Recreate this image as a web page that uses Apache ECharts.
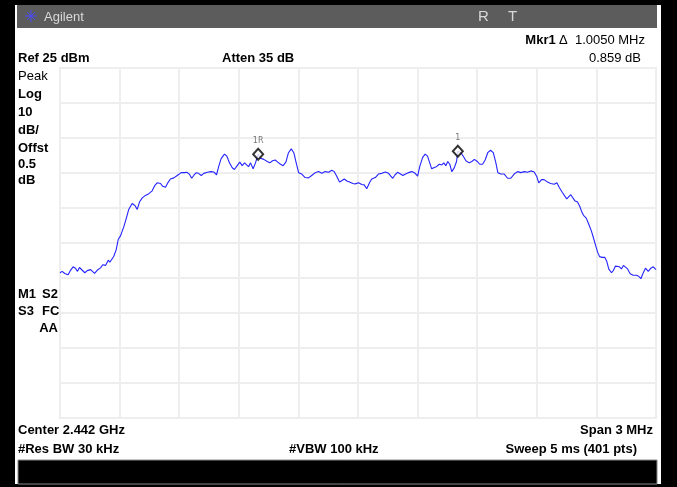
<!DOCTYPE html>
<html><head><meta charset="utf-8">
<script src="https://cdn.jsdelivr.net/npm/echarts@6/dist/echarts.min.js"></script>
<style>html,body{margin:0;padding:0;background:#fff}#c{width:677px;height:487px}</style>
</head><body><div id="c"></div>
<script>
// Spectrum trace: frequency (MHz) and level (dBm)
const freqMHz = [
2440.500,2440.511,2440.524,2440.541,2440.553,2440.566,2440.578,2440.588,2440.598,2440.608,
2440.625,2440.637,2440.654,2440.662,2440.674,2440.687,2440.704,2440.715,2440.729,2440.743,
2440.751,2440.759,2440.771,2440.783,2440.793,2440.805,2440.821,2440.833,2440.846,2440.863,
2440.877,2440.889,2440.900,2440.914,2440.930,2440.947,2440.964,2440.977,2440.989,2441.006,
2441.017,2441.031,2441.045,2441.056,2441.073,2441.090,
2441.110,2441.127,2441.140,2441.152,2441.163,2441.173,2441.186,2441.197,2441.211,2441.224,
2441.241,2441.261,2441.274,2441.288,2441.299,2441.311,2441.328,2441.340,2441.353,2441.367,
2441.378,2441.392,2441.405,2441.417,2441.429,2441.439,2441.449,2441.459,2441.472,2441.484,
2441.4975,2441.509,2441.526,2441.543,2441.556,2441.570,2441.583,2441.596,2441.610,2441.623,
2441.637,2441.650,2441.664,2441.677,2441.689,
2441.701,2441.717,2441.734,2441.751,2441.767,2441.785,2441.801,2441.818,2441.835,2441.852,
2441.868,2441.880,2441.893,2441.907,2441.918,2441.931,2441.944,2441.957,2441.974,2441.986,
2442.003,2442.019,2442.031,2442.044,2442.058,2442.069,2442.087,2442.103,2442.120,2442.137,
2442.154,2442.165,2442.175,2442.187,2442.199,2442.212,2442.226,2442.239,2442.254,2442.271,
2442.288,
2442.300,2442.311,2442.325,2442.338,2442.350,2442.361,2442.371,2442.384,2442.395,2442.409,
2442.422,2442.432,2442.442,2442.452,2442.462,2442.472,2442.484,2442.496,2442.5025,2442.518,
2442.530,2442.543,2442.560,2442.573,2442.586,2442.600,2442.613,2442.627,2442.640,2442.653,
2442.667,2442.681,2442.694,2442.704,2442.719,2442.736,2442.753,2442.769,2442.786,2442.803,
2442.820,2442.837,2442.853,2442.870,2442.887,
2442.899,2442.910,2442.924,2442.937,2442.954,2442.970,2442.988,2443.001,2443.014,2443.028,
2443.041,2443.051,2443.061,2443.071,2443.081,2443.091,2443.105,2443.116,2443.125,2443.135,
2443.149,2443.162,2443.175,2443.185,2443.196,2443.206,2443.216,2443.229,2443.242,2443.252,
2443.262,2443.276,2443.286,2443.296,2443.306,2443.316,2443.326,2443.336,2443.346,2443.357,
2443.370,2443.385,2443.402,2443.413,2443.424,2443.436,2443.447,2443.461,2443.474,2443.486,
2443.500
];
const levelDbm = [
-33.5,-33.1,-33.7,-34.1,-32.8,-31.8,-32.2,-33.1,-32.0,-32.4,
-33.5,-32.9,-32.6,-32.9,-33.7,-32.8,-32.1,-31.2,-31.4,-29.9,
-30.5,-30.9,-28.8,-26.9,-24.0,-22.9,-20.4,-18.1,-15.4,-13.7,
-14.3,-15.4,-13.3,-12.1,-11.4,-10.9,-10.1,-8.6,-7.8,-8.0,
-8.8,-9.1,-7.6,-6.7,-6.4,-5.7,
-4.9,-4.9,-4.8,-5.4,-6.5,-5.7,-4.9,-5.1,-5.7,-5.1,
-4.8,-4.6,-4.7,-5.5,-3.1,-0.9,0.4,-0.2,-2.1,-3.5,
-4.0,-2.9,-1.9,-2.9,-2.1,-1.7,-3.2,-2.1,-3.8,-2.1,
0.35,-0.8,-1.1,-1.7,-2.1,-1.5,-1.3,-1.9,-2.5,-2.9,
-1.9,0.8,1.9,0.8,-2.1,
-4.9,-5.3,-6.3,-6.4,-5.7,-4.9,-4.6,-5.1,-4.6,-4.8,
-4.2,-4.6,-5.9,-7.6,-7.2,-6.7,-7.3,-7.6,-8.0,-8.1,
-7.8,-8.3,-8.4,-9.5,-7.8,-6.7,-6.3,-5.3,-5.1,-4.7,
-5.1,-5.9,-6.5,-5.5,-4.8,-5.2,-5.7,-5.3,-4.9,-4.6,
-5.1,
-5.9,-3.1,-0.6,0.4,-0.2,-2.1,-3.8,-3.4,-3.2,-2.5,
-2.7,-2.1,-2.9,-1.7,-2.5,-4.6,-3.6,-1.7,1.21,0.8,
-0.2,-1.5,-2.1,-1.7,-1.1,-1.7,-2.5,-2.5,-1.3,0.8,
1.5,0.8,-2.1,-4.9,-5.3,-5.3,-6.5,-6.5,-5.3,-4.6,
-4.9,-4.6,-4.8,-4.4,-4.7,
-5.9,-7.8,-6.9,-6.9,-7.6,-8.0,-8.2,-7.8,-9.2,-10.5,
-11.6,-12.4,-12.0,-11.2,-11.6,-12.9,-13.3,-14.5,-15.9,-17.1,
-17.9,-19.7,-21.6,-23.5,-25.7,-27.6,-28.9,-29.1,-29.1,-30.2,
-32.4,-33.5,-32.8,-31.6,-31.1,-31.8,-32.4,-31.4,-31.2,-32.4,
-33.8,-34.2,-34.2,-34.5,-35.2,-33.5,-32.2,-33.1,-32.2,-31.8,
-32.6
];
// Markers
const markerNames = ['1R', '1'];
const markerFreqMHz = [2441.4975, 2442.5025];
const markerLevelDbm = [0.35, 1.209];
// Axis settings (instrument display)
const refLevel = 25, dbPerDiv = 10, vDivs = 10;
const startMHz = 2440.5, stopMHz = 2443.5, hDivs = 10;

const trace = freqMHz.map((f, i) => [f, levelDbm[i]]);
const markers = markerFreqMHz.map((f, i) => ({ value: [f, markerLevelDbm[i]], name: markerNames[i] }));

const B = "'Liberation Sans', Arial, sans-serif";
function txt(x, y, s, opt) {
  opt = opt || {};
  return { type: 'text', x: x, y: y, z: 10, style: Object.assign({
    text: s, fill: '#000', font: (opt.bold === false ? '' : 'bold ') + (opt.size || 13) + 'px ' + B,
    textAlign: opt.align || 'left', textVerticalAlign: 'middle' }, opt.style || {}) };
}

const chart = echarts.init(document.getElementById('c'), null, { renderer: 'canvas' });
chart.setOption({
  animation: false,
  backgroundColor: '#fff',
  grid: { left: 60, top: 68, width: 596, height: 350, show: true, backgroundColor: '#fff', borderColor: '#e9e9e9', borderWidth: 2, containLabel: false },
  xAxis: { type: 'value', min: startMHz, max: stopMHz, interval: (stopMHz - startMHz) / hDivs,
    axisLine: { show: false }, axisTick: { show: false }, axisLabel: { show: false },
    splitLine: { show: true, lineStyle: { color: '#eeeeee', width: 2 } } },
  yAxis: { type: 'value', min: refLevel - dbPerDiv * vDivs, max: refLevel, interval: dbPerDiv,
    axisLine: { show: false }, axisTick: { show: false }, axisLabel: { show: false },
    splitLine: { show: true, lineStyle: { color: '#eeeeee', width: 2 } } },
  series: [
    { type: 'line', data: trace, showSymbol: false, symbol: 'none', lineStyle: { color: '#2424ff', width: 1.1 }, z: 3 },
    { type: 'scatter', data: markers, symbol: 'diamond', symbolSize: [10, 11], z: 5,
      itemStyle: { color: '#fff', borderColor: '#000', borderWidth: 2 },
      label: { show: true, position: 'top', distance: 3, formatter: p => p.name, color: '#555', fontSize: 8, fontFamily: 'DejaVu Sans' } }
  ],
  graphic: [
    // outer black frame
    { type: 'rect', shape: { x: 0, y: 0, width: 677, height: 5 }, style: { fill: '#000' }, z: 1 },
    { type: 'rect', shape: { x: 0, y: 0, width: 15, height: 487 }, style: { fill: '#000' }, z: 1 },
    { type: 'rect', shape: { x: 661, y: 0, width: 16, height: 487 }, style: { fill: '#000' }, z: 1 },
    { type: 'rect', shape: { x: 0, y: 484, width: 677, height: 3 }, style: { fill: '#000' }, z: 1 },
    // header bar
    { type: 'rect', shape: { x: 17, y: 5, width: 640, height: 23 }, style: { fill: '#5c5c5c' }, z: 1 },
    // agilent logo (starburst)
    { type: 'line', shape: { x1: 25, y1: 16, x2: 37, y2: 16 }, style: { stroke: '#4a4aff', lineWidth: 1 }, z: 2 },
    { type: 'line', shape: { x1: 31, y1: 10, x2: 31, y2: 22 }, style: { stroke: '#4a4aff', lineWidth: 1 }, z: 2 },
    { type: 'line', shape: { x1: 27, y1: 12, x2: 35, y2: 20 }, style: { stroke: '#4a4aff', lineWidth: 1 }, z: 2 },
    { type: 'line', shape: { x1: 35, y1: 12, x2: 27, y2: 20 }, style: { stroke: '#4a4aff', lineWidth: 1 }, z: 2 },
    txt(44, 17, 'Agilent', { bold: false, size: 13, style: { fill: '#d8d8d8' } }),
    txt(478, 17, 'R', { bold: false, size: 15, style: { fill: '#d8d8d8' } }),
    txt(508, 17, 'T', { bold: false, size: 15, style: { fill: '#d8d8d8' } }),
    // bottom black bar
    { type: 'rect', shape: { x: 18, y: 460, width: 639, height: 24 }, style: { fill: '#000', stroke: '#888', lineWidth: 1 }, z: 1 },
    // top info
    { type: 'text', x: 645, y: 40, z: 10, style: { text: '{b|Mkr1} {r|\u0394  1.0050 MHz}', textAlign: 'right', textVerticalAlign: 'middle',
      rich: { b: { font: 'bold 13px ' + B, fill: '#000' }, r: { font: '13px ' + B, fill: '#000' } } } },
    txt(18, 58, 'Ref 25 dBm'),
    txt(222, 58, 'Atten 35 dB'),
    txt(641, 58, '0.859 dB', { bold: false, align: 'right' }),
    // left side labels
    txt(18, 76, 'Peak', { bold: false }),
    txt(18, 94, 'Log'),
    txt(18, 112, '10'),
    txt(18, 130, 'dB/'),
    txt(18, 148, 'Offst'),
    txt(18, 164, '0.5'),
    txt(18, 180, 'dB'),
    txt(18, 294, 'M1'),
    txt(42, 294, 'S2'),
    txt(18, 311, 'S3'),
    txt(42, 311, 'FC'),
    txt(58, 328, 'AA', { align: 'right' }),
    // bottom info
    txt(18, 430, 'Center 2.442 GHz'),
    txt(653, 430, 'Span 3 MHz', { align: 'right' }),
    txt(18, 449, '#Res BW 30 kHz'),
    txt(289, 449, '#VBW 100 kHz'),
    txt(637, 449, 'Sweep 5 ms (401 pts)', { align: 'right' })
  ]
});
</script></body></html>
